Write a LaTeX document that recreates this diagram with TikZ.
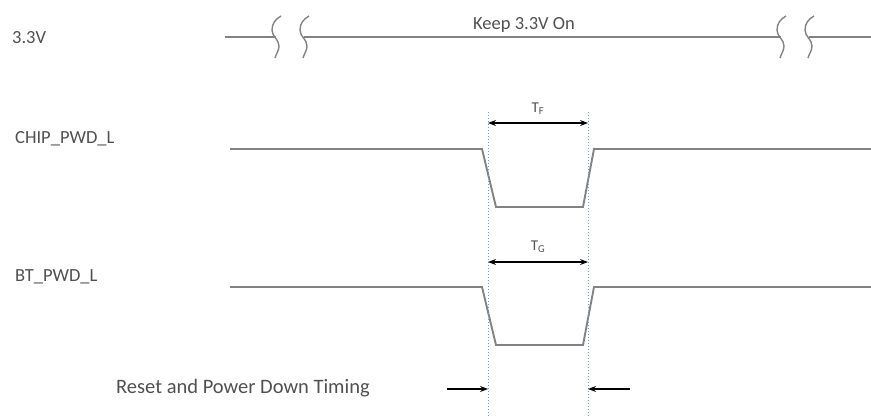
\documentclass[tikz,border=0pt]{standalone}
\usepackage{fontspec}
\setmainfont{Carlito}
\usetikzlibrary{arrows.meta}
\definecolor{wavegray}{RGB}{130,130,130}
\definecolor{txtgray}{RGB}{80,80,80}
\definecolor{guideblue}{RGB}{100,165,215}

\tikzset{
  wave/.style={draw=wavegray, line width=1.9pt},
  siglabel/.style={anchor=west, text=txtgray, inner sep=0pt, font=\fontsize{18.5}{20}\selectfont},
  guide/.style={guideblue, dotted, line width=1pt},
  dimarrow/.style={{Stealth[length=8pt,width=6pt]}-{Stealth[length=8pt,width=6pt]}, line width=1.1pt},
  marker/.style={-{Stealth[length=8pt,width=6pt]}, line width=1.1pt},
}

\begin{document}
\begin{tikzpicture}[x=1pt,y=-1pt]
    \useasboundingbox (0,0) rectangle (871,417);

    % signal names
    \node[siglabel] (vdd) at (12,38) {3.3V};
    \node[siglabel] (chip) at (15,139) {CHIP\_PWD\_L};
    \node[siglabel] (bt) at (15,277) {BT\_PWD\_L};

    % 3.3V rail with the break marks
    \draw[wave] (225,37) -- (276,37);
    \draw[wave] (304,37) -- (781,37);
    \draw[wave] (809,37) -- (871,37);
    \foreach \x in {276,304,781,809} {
        \draw[wave, line width=1.4pt] (\x+5,16) to[out=210,in=90] (\x-4,30)
            to[out=-90,in=90] (\x+3,46) to[out=-90,in=75] (\x-1,58);
    }
    \node[text=txtgray, font=\fontsize{18.5}{20}\selectfont, inner sep=0pt] (keep) at (524,25) {Keep 3.3V On};

    % CHIP_PWD_L and BT_PWD_L pulses
    \foreach \y in {149,287} {
        \draw[wave] (230,\y) -- (482,\y) -- (496,\y+58) -- (583,\y+58) -- (594,\y) -- (871,\y);
    }

    % timing guides
    \coordinate (gl) at (488,112);
    \coordinate (gr) at (588,112);
    \coordinate (gle) at (488,417);
    \coordinate (gre) at (588,417);
    \draw[guide] (gl) -- (gle);
    \draw[guide] (gr) -- (gre);

    \coordinate (tfl) at (488,123);
    \coordinate (tfr) at (588,123);
    \draw[dimarrow] (tfl) -- (tfr);
    \node[text=txtgray, font=\fontsize{15}{17}\selectfont, inner sep=0pt] (tf) at (538,109) {T\textsubscript{F}};

    \coordinate (tgl) at (488,262);
    \coordinate (tgr) at (588,262);
    \draw[dimarrow] (tgl) -- (tgr);
    \node[text=txtgray, font=\fontsize{15}{17}\selectfont, inner sep=0pt] (tg) at (538,247) {T\textsubscript{G}};

    % reset and power down marker
    \node[anchor=west, text=txtgray, inner sep=0pt, font=\fontsize{20.5}{22}\selectfont] (reset) at (116,388) {Reset and Power Down Timing};
    \coordinate (ml) at (447,389);
    \coordinate (mlt) at (488,389);
    \coordinate (mr) at (630,389);
    \coordinate (mrt) at (588,389);
    \draw[marker] (ml) -- (mlt);
    \draw[marker] (mr) -- (mrt);
\end{tikzpicture}
\end{document}
